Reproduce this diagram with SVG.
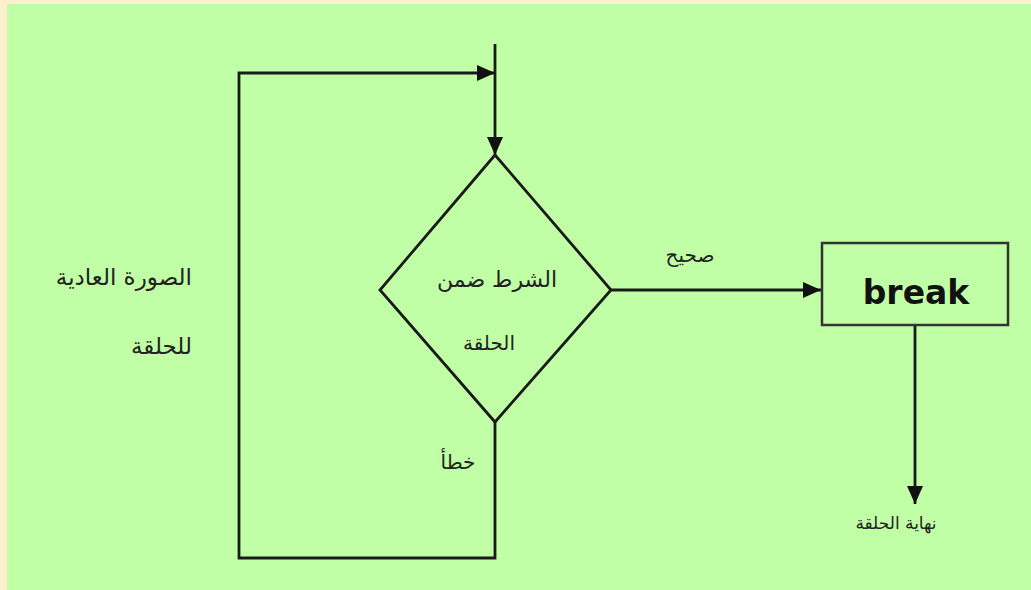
<svg xmlns="http://www.w3.org/2000/svg" width="1031" height="590" viewBox="0 0 1031 590">
<defs>
<marker id="ah" markerWidth="18" markerHeight="16" refX="18" refY="8" orient="auto" markerUnits="userSpaceOnUse">
<path d="M0,0 L18,8 L0,16 Z" fill="#111"/>
</marker>
<style>
.ln{fill:none;stroke:#1a1a1a;stroke-width:2.8}
.ar{font-family:"DejaVu Sans",sans-serif;font-size:20px;fill:#222}
.bk{font-family:"Comic Sans MS","DejaVu Sans",sans-serif;font-weight:bold;font-size:33px;fill:#111}
</style>
</defs>
<rect x="0" y="0" width="1031" height="590" fill="#ffefcc"/>
<rect x="7" y="4" width="1024" height="586" fill="#c0ffa6"/>
<g id="connectors">
<path class="ln" d="M495,422 V558 H239 V73 H495" marker-end="url(#ah)"/>
<path class="ln" d="M495,44 V155" marker-end="url(#ah)"/>
<path class="ln" d="M611,290 H821" marker-end="url(#ah)"/>
<path class="ln" d="M915,325 V504" marker-end="url(#ah)"/>
</g>
<g id="condition">
<polygon class="ln" points="495,155 611,290 495,422 380,290"/>
<text class="ar" x="497" y="287" text-anchor="middle" direction="rtl" style="font-size:22px">الشرط ضمن</text>
<text class="ar" x="489" y="350" text-anchor="middle" direction="rtl">الحلقة</text>
</g>
<g id="break">
<rect x="822" y="243" width="186" height="82" fill="none" stroke="#333" stroke-width="2.5"/>
<text class="bk" x="916" y="304" text-anchor="middle">break</text>
</g>
<g id="labels">
<text class="ar" x="690" y="262" text-anchor="middle" direction="rtl">صحيح</text>
<text class="ar" x="458" y="469" text-anchor="middle" direction="rtl">خطأ</text>
<text class="ar" x="896" y="529" text-anchor="middle" direction="rtl" style="font-size:17px">نهاية الحلقة</text>
<text class="ar" x="192" y="285" direction="rtl" style="font-size:23px">الصورة العادية</text>
<text class="ar" x="192" y="354" direction="rtl" style="font-size:23px">للحلقة</text>
</g>
</svg>
